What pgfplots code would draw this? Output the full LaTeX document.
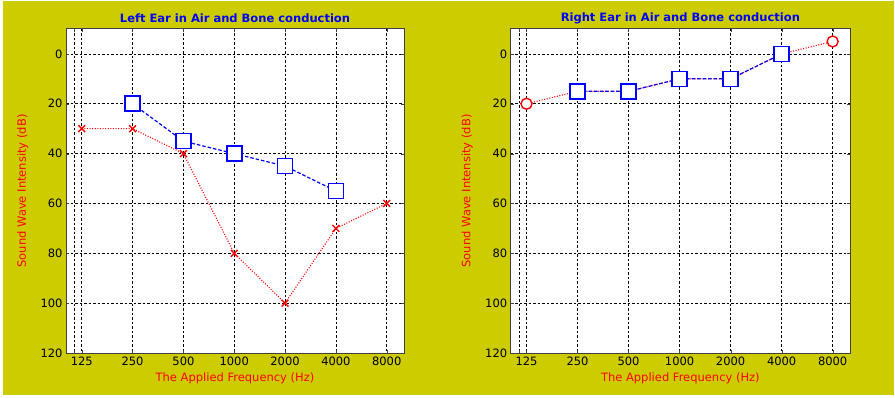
\documentclass[border=0pt]{standalone}
\usepackage{pgfplots}
\pgfplotsset{compat=1.18}
\usepackage{fontspec}
\setmainfont{DejaVu Sans}
\definecolor{bgyel}{HTML}{CCCC00}
\begin{document}
\begin{tikzpicture}
\fill[white] (0pt,0pt) rectangle (895pt,398pt);
\fill[bgyel] (3pt,3pt) rectangle (894pt,397pt);
\pgfplotsset{
 audiostyle/.style={
  scale only axis, height=324pt,
  xmin=0.69, xmax=7.34, ymin=-10, ymax=120, y dir=reverse,
  xtick={1,...,7}, xticklabels={125,250,500,1000,2000,4000,8000},
  ytick={0,20,...,120},
  extra x ticks={0.85}, extra x tick labels={}, extra x tick style={grid=major},
  grid=major, major grid style={black, dash pattern=on 2.5pt off 2pt, line width=0.6pt},
  axis background/.style={fill=white},
  axis line style={line width=1pt, black!75},
  tick style={black!75},
  tick align=inside, major tick length=3pt,
  ticklabel style={font=\fontsize{11.5}{13}\selectfont, text=black},
  /pgf/number format/assume math mode=true,
  xlabel={The Applied Frequency (Hz)}, ylabel={Sound Wave Intensity (dB)},
  label style={font=\fontsize{11.5}{13}\selectfont, text=red},
  xlabel style={at={(axis description cs:0.5,-0.077)}, anchor=center},
  ylabel style={at={(axis description cs:-0.128,0.5)}, anchor=center},
  title style={font=\fontsize{11.5}{13}\selectfont\bfseries, text=blue, at={(axis description cs:0.5,1.040)}, anchor=center, yshift=-8pt},
 },
 airred/.style={red, line width=1.1pt, dash pattern=on 1pt off 1.6pt, mark options={solid, line width=1.4pt, fill=white}},
 boneblue/.style={blue, line width=1.2pt, dash pattern=on 3.5pt off 2pt, mark=square*, mark size=7.5pt, mark options={solid, line width=1.6pt, fill=white}},
}
\begin{axis}[audiostyle, width=338pt, at={(66pt,45pt)}, anchor=south west,
  title={Left Ear in Air and Bone conduction}]
\addplot[airred, mark=x, mark size=4.8pt] coordinates {(1,30) (2,30) (3,40) (4,80) (5,100) (6,70) (7,60)};
\addplot[boneblue] coordinates {(2,20) (3,35) (4,40) (5,45) (6,55)};
\end{axis}
\begin{axis}[audiostyle, width=339.3pt, at={(510.7pt,45pt)}, anchor=south west,
  title={Right Ear in Air and Bone conduction}]
\addplot[airred, mark=*, mark size=5.5pt] coordinates {(1,20) (2,15) (3,15) (4,10) (5,10) (6,0) (7,-5)};
\addplot[boneblue] coordinates {(2,15) (3,15) (4,10) (5,10) (6,0)};
\end{axis}
\end{tikzpicture}
\end{document}
